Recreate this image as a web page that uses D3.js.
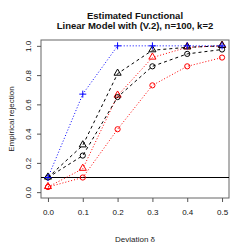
<!DOCTYPE html>
<html>
<head>
<meta charset="utf-8">
<script src="https://cdn.jsdelivr.net/npm/d3@7"></script>
<style>
  body { margin: 0; background: #fff; }
  text { font-family: "Liberation Sans", Arial, sans-serif; fill: #111; }
</style>
</head>
<body>
<div class="container"></div>
<script>
var deltas = [0, 0.1, 0.2, 0.3, 0.4, 0.5];
var xTicks = [0, 0.1, 0.2, 0.3, 0.4, 0.5];
var yTicks = [0, 0.2, 0.4, 0.6, 0.8, 1.0];
var level = 0.1;

var bluePlus = [0.10, 0.67, 1.00, 1.00, 1.00, 1.00];
var blackTri = [0.10, 0.32, 0.81, 0.97, 0.99, 1.00];
var blackCirc = [0.10, 0.25, 0.65, 0.86, 0.945, 0.975];
var redTri = [0.035, 0.16, 0.66, 0.92, 0.99, 1.00];
var redCirc = [0.035, 0.10, 0.43, 0.73, 0.86, 0.92];

var series = [
  {"values": redCirc, "color": "red", "dash": "1,2", "shape": "circle"},
  {"values": redTri, "color": "red", "dash": "1,2", "shape": "triangle"},
  {"values": blackCirc, "color": "black", "dash": "3,3", "shape": "circle"},
  {"values": blackTri, "color": "black", "dash": "3,3", "shape": "triangle"},
  {"values": bluePlus, "color": "blue", "dash": "1,2", "shape": "plus"}
];

const WIDTH = 250;
const HEIGHT = 250;
const LEFT = 41, RIGHT = 229, TOP = 40, BOTTOM = 198;

var svg = d3.select('.container').append('svg')
  .attr('width', WIDTH)
  .attr('height', HEIGHT);

var xScale = d3.scaleLinear().domain([-0.02, 0.52]).range([LEFT, RIGHT]);
var yScale = d3.scaleLinear().domain([-0.04, 1.04]).range([BOTTOM, TOP]);

// box
svg.append('rect')
  .attr('x', LEFT).attr('y', TOP)
  .attr('width', RIGHT - LEFT).attr('height', BOTTOM - TOP)
  .attr('fill', 'none').attr('stroke', '#666').attr('stroke-width', 1);

var xAxis = d3.axisBottom(xScale).tickValues(xTicks).tickSize(4).tickPadding(7)
  .tickFormat(d3.format('.1f'));
var gx = svg.append('g').attr('transform', 'translate(0,' + BOTTOM + ')').call(xAxis);
gx.select('.domain').remove();
gx.selectAll('line').attr('stroke', '#555');
gx.selectAll('text').attr('font-size', 8).attr('fill', '#222');

var yAxis = d3.axisLeft(yScale).tickValues(yTicks).tickSize(4)
  .tickFormat(d3.format('.1f'));
var gy = svg.append('g').attr('transform', 'translate(' + LEFT + ',0)').call(yAxis);
gy.select('.domain').remove();
gy.selectAll('line').attr('stroke', '#555');
gy.selectAll('text')
  .attr('font-size', 8).attr('fill', '#222')
  .attr('text-anchor', 'middle')
  .attr('x', 0)
  .attr('transform', 'translate(-10,0) rotate(-90)')
  .attr('dy', '0');

// reference level
svg.append('line')
  .attr('x1', LEFT).attr('x2', RIGHT)
  .attr('y1', yScale(level)).attr('y2', yScale(level))
  .attr('stroke', 'black').attr('stroke-width', 1.2);

var line = d3.line()
  .x(function(d, i){ return xScale(deltas[i]); })
  .y(function(d){ return yScale(d); });

series.forEach(function(s){
  var g = svg.append('g');
  g.append('path')
    .datum(s.values)
    .attr('d', line)
    .attr('fill', 'none')
    .attr('stroke', s.color)
    .attr('stroke-width', 1)
    .attr('stroke-dasharray', s.dash);

  var pts = g.selectAll('.pt').data(s.values).enter();
  if (s.shape == 'circle') {
    pts.append('circle')
      .attr('cx', function(d, i){ return xScale(deltas[i]); })
      .attr('cy', function(d){ return yScale(d); })
      .attr('r', 2.6)
      .attr('fill', 'none').attr('stroke', s.color).attr('stroke-width', 1);
  } else if (s.shape == 'triangle') {
    pts.append('path')
      .attr('d', d3.symbol().type(d3.symbolTriangle).size(22))
      .attr('transform', function(d, i){ return 'translate(' + xScale(deltas[i]) + ',' + (yScale(d) - 0.5) + ')'; })
      .attr('fill', 'none').attr('stroke', s.color).attr('stroke-width', 1);
  } else {
    pts.append('path')
      .attr('d', 'M-3.5,0H3.5M0,-3.5V3.5')
      .attr('transform', function(d, i){ return 'translate(' + xScale(deltas[i]) + ',' + yScale(d) + ')'; })
      .attr('fill', 'none').attr('stroke', s.color).attr('stroke-width', 1);
  }
});

// titles
svg.append('text').attr('x', 135).attr('y', 19)
  .attr('text-anchor', 'middle').attr('font-size', 9.5).attr('font-weight', 'bold')
  .attr('fill', '#000')
  .text('Estimated Functional');
svg.append('text').attr('x', 135).attr('y', 29)
  .attr('text-anchor', 'middle').attr('font-size', 9.5).attr('font-weight', 'bold')
  .attr('fill', '#000')
  .text('Linear Model with (V.2), n=100, k=2');

svg.append('text').attr('x', 135).attr('y', 242)
  .attr('text-anchor', 'middle').attr('font-size', 8)
  .style('fill', '#222')
  .text('Deviation δ');

svg.append('text')
  .attr('transform', 'translate(14,119) rotate(-90)')
  .attr('text-anchor', 'middle').attr('font-size', 8)
  .style('fill', '#222')
  .text('Empirical rejection');
</script>
</body>
</html>
